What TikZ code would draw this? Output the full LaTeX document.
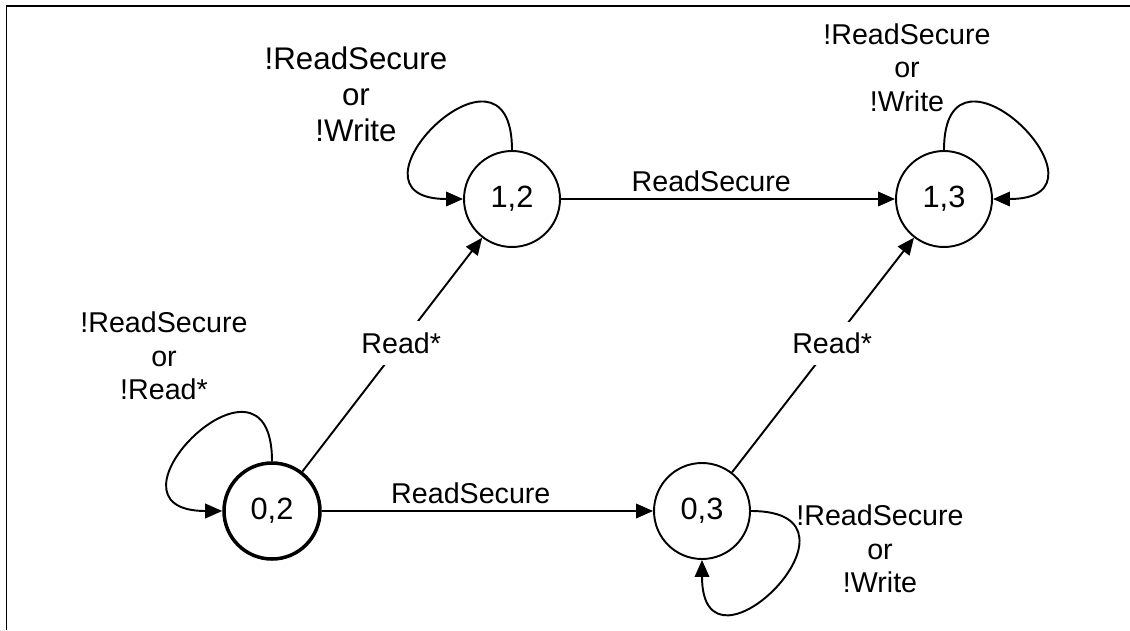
\documentclass[tikz,border=0pt]{standalone}
\usepackage{fontspec}
\setmainfont{Liberation Sans}
\usetikzlibrary{arrows.meta}
\begin{document}
\begin{tikzpicture}[
  state/.style={circle,draw,line width=1.1pt,minimum size=1.92cm,inner sep=0pt,font=\fontsize{17.5}{20}\selectfont},
  arr/.style={line width=1.1pt,-{Triangle[length=0.34cm,width=0.29cm]}},
  txt/.style={align=center,font=\fontsize{16.3}{19}\selectfont},
  cut/.style={txt,fill=white,inner sep=0.22cm}
  ]
\useasboundingbox (0,0) rectangle (22.6,12.6);
\draw[line width=1.1pt] (0.13,0) -- (0.13,12.48) -- (22.6,12.48);

\node[state,line width=2pt] (s02) at (5.44,2.38) {0,2};
\node[state] (s12) at (10.24,8.62) {1,2};
\node[state] (s03) at (14.04,2.38) {0,3};
\node[state] (s13) at (18.88,8.62) {1,3};

\draw[arr] (s02) -- node[txt,above,pos=0.45] (rs02) {ReadSecure} (s03);
\draw[arr] (s12) -- node[txt,above,pos=0.45] (rs12) {ReadSecure} (s13);
\draw[arr] (s02) -- node[cut,pos=0.55] (rd02) {Read*} (s12);
\draw[arr] (s03) -- node[cut,pos=0.55] (rd03) {Read*} (s13);

\draw[arr] (s02.north) to[out=90,in=180,looseness=4.9] (s02.west);
\draw[arr] (s12.north) to[out=90,in=180,looseness=4.9] (s12.west);
\draw[arr] (s13.north) to[out=90,in=0,looseness=4.9] (s13.east);
\draw[arr] (s03.east) to[out=0,in=-90,looseness=4.9] (s03.south);

\node[txt] (lp02) at (3.28,5.48) {!ReadSecure\\or\\!Read*};
\node[txt,font=\fontsize{17.8}{20.4}\selectfont] (lp12) at (7.12,10.71) {!ReadSecure\\or\\!Write};
\node[txt] (lp13) at (18.14,11.25) {!ReadSecure\\or\\!Write};
\node[txt] (lp03) at (17.6,1.62) {!ReadSecure\\or\\!Write};

\end{tikzpicture}
\end{document}
